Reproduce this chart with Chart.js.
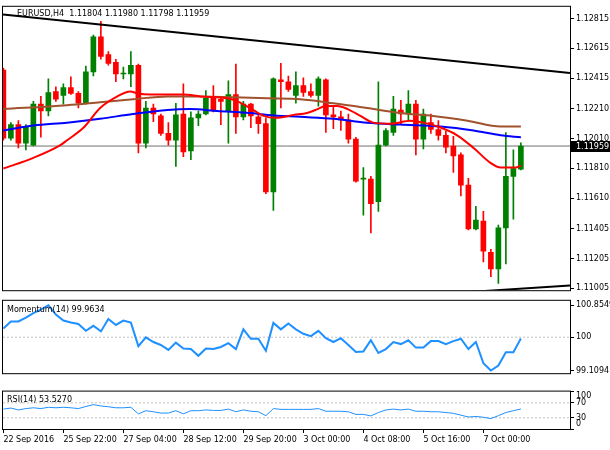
<!DOCTYPE html>
<html>
<head>
<meta charset="utf-8">
<title>EURUSD H4</title>
<script src="https://cdn.jsdelivr.net/npm/chart.js@4.4.1/dist/chart.umd.min.js"></script>
<style>
  body { margin: 0; background: #fff; width: 610px; height: 450px; overflow: hidden; position: relative; }
  canvas { position: absolute; left: 0; }
  #main { top: 0; }
  #momentum { top: 294px; }
  #rsi { top: 380px; }
</style>
</head>
<body>
<canvas id="main" width="610" height="297"></canvas>
<canvas id="momentum" width="610" height="86"></canvas>
<canvas id="rsi" width="610" height="70"></canvas>
<script>
//candles, one per H4 bar (22 Sep 16:00 -> 7 Oct 20:00)
const opens = [1.12469, 1.12011, 1.12103, 1.11978, 1.11965, 1.12240, 1.12194, 1.12325, 1.12299, 1.12351,
  1.12312, 1.12246, 1.12456, 1.12691, 1.12573, 1.12521, 1.12442, 1.12442, 1.12501, 1.11978,
  1.12214, 1.12161, 1.12044, 1.11998, 1.12174, 1.11926, 1.12148, 1.12174, 1.12286, 1.12273,
  1.12194, 1.12305, 1.12155, 1.12240, 1.12155, 1.12109, 1.11652, 1.12403, 1.12390, 1.12299,
  1.12364, 1.12325, 1.12299, 1.12403, 1.12168, 1.12155, 1.12135, 1.12005, 1.11737, 1.11737,
  1.11586, 1.11965, 1.12050, 1.12201, 1.12174, 1.12240, 1.12005, 1.12116, 1.12070, 1.12031,
  1.11959, 1.11900, 1.11697, 1.11403, 1.11456, 1.11246, 1.11135, 1.11410, 1.11756, 1.11804];
const highs = [1.12482, 1.12116, 1.12129, 1.12103, 1.12259, 1.12292, 1.12410, 1.12357, 1.12377, 1.12423,
  1.12325, 1.12495, 1.12704, 1.12795, 1.12593, 1.12541, 1.12488, 1.12593, 1.12508, 1.12259,
  1.12240, 1.12174, 1.12116, 1.12246, 1.12377, 1.12188, 1.12194, 1.12331, 1.12364, 1.12292,
  1.12397, 1.12508, 1.12259, 1.12246, 1.12174, 1.12148, 1.12416, 1.12514, 1.12429, 1.12456,
  1.12416, 1.12377, 1.12423, 1.12410, 1.12227, 1.12194, 1.12174, 1.12018, 1.11815, 1.11756,
  1.12390, 1.12076, 1.12292, 1.12266, 1.12331, 1.12266, 1.12207, 1.12174, 1.12129, 1.12057,
  1.12024, 1.11913, 1.11743, 1.11554, 1.11521, 1.11266, 1.11429, 1.12050, 1.11933, 1.11980];
const lows = [1.11998, 1.11998, 1.11946, 1.11933, 1.11959, 1.12018, 1.12161, 1.12259, 1.12240, 1.12305,
  1.12214, 1.12240, 1.12429, 1.12541, 1.12501, 1.12390, 1.12410, 1.12357, 1.11913, 1.11946,
  1.12122, 1.12031, 1.11965, 1.11822, 1.11887, 1.11867, 1.12096, 1.12168, 1.12188, 1.12103,
  1.11978, 1.12044, 1.12135, 1.12083, 1.12044, 1.11639, 1.11527, 1.12214, 1.12325, 1.12246,
  1.12292, 1.12286, 1.12227, 1.12050, 1.12076, 1.12063, 1.11978, 1.11717, 1.11495, 1.11377,
  1.11521, 1.11959, 1.12031, 1.12109, 1.12129, 1.11900, 1.11939, 1.12044, 1.11998, 1.11913,
  1.11782, 1.11625, 1.11397, 1.11397, 1.11181, 1.11083, 1.11037, 1.11168, 1.11469, 1.11798];
const closes = [1.12011, 1.12103, 1.11978, 1.12090, 1.12240, 1.12194, 1.12318, 1.12273, 1.12351, 1.12312,
  1.12246, 1.12456, 1.12691, 1.12560, 1.12514, 1.12442, 1.12445, 1.12501, 1.11978, 1.12214,
  1.12174, 1.12044, 1.11998, 1.12168, 1.11920, 1.12148, 1.12174, 1.12279, 1.12201, 1.12259,
  1.12305, 1.12155, 1.12240, 1.12161, 1.12109, 1.11652, 1.12410, 1.12390, 1.12338, 1.12364,
  1.12318, 1.12299, 1.12410, 1.12168, 1.12155, 1.12135, 1.12005, 1.11724, 1.11743, 1.11573,
  1.11965, 1.12063, 1.12207, 1.12174, 1.12240, 1.12005, 1.12174, 1.12070, 1.12031, 1.11952,
  1.11893, 1.11697, 1.11403, 1.11462, 1.11253, 1.11135, 1.11410, 1.11756, 1.11808, 1.11959];

//moving averages at some bars
const maRedBars = [0, 4, 7.6, 8.5, 10.7, 12.9, 15.2, 16.9, 17.9, 19.6, 24, 26.3, 29.9, 31.2, 32.9, 34.7, 36.3,
  38.7, 40.5, 41.9, 42.9, 44.5, 45.9, 47.6, 49.3, 51.6, 54.3, 56, 58.3, 60.5, 62.7, 64.9, 66.3, 68.3, 69];
const maRedValues = [1.11808, 1.11880, 1.11965, 1.11998, 1.12083, 1.12214, 1.12292, 1.12325, 1.12312, 1.12305,
  1.12305, 1.12292, 1.12279, 1.12259, 1.12214, 1.12161, 1.12148, 1.12168, 1.12181, 1.12207, 1.12227, 1.12227,
  1.12207, 1.12161, 1.12116, 1.12109, 1.12129, 1.12116, 1.12083, 1.12031, 1.11946, 1.11848, 1.11815, 1.11815, 1.11828];
const maBlueBars = [0, 4, 8.5, 12.9, 17.3, 21.9, 24.9, 28.5, 32.9, 35.2, 39.6, 44, 48.5, 52.9, 58.3, 62.7, 66.3, 69];
const maBlueValues = [1.12063, 1.12096, 1.12116, 1.12142, 1.12174, 1.12201, 1.12207, 1.12194, 1.12181,
  1.12168, 1.12155, 1.12142, 1.12116, 1.12103, 1.12090, 1.12063, 1.12031, 1.12018];
const maBrownBars = [0, 8.5, 12.9, 17.3, 21.9, 26.3, 30.7, 35.2, 39.6, 44, 48.5, 52.9, 57.3, 61.9, 66.3, 69];
const maBrownValues = [1.12207, 1.12233, 1.12253, 1.12273, 1.12292, 1.12292, 1.12286, 1.12279, 1.12273,
  1.12246, 1.12214, 1.12181, 1.12161, 1.12129, 1.12090, 1.12090];

//trend lines
const upperTrendBars = [-0.05, 75.55];
const upperTrendValues = [1.12841, 1.12449];
const lowerTrendBars = [60, 75.55];
const lowerTrendValues = [1.10973, 1.11024];

//indicators
const momentum = [100.2337, 100.4224, 100.4224, 100.5246, 100.6426, 100.7369, 100.8549, 100.6033, 100.4460, 100.3910,
  100.3517, 100.1708, 100.3045, 100.1551, 100.4853, 100.3281, 100.4460, 100.3910, 99.7620, 99.9978,
  99.8720, 99.7934, 99.6597, 99.8563, 99.6991, 99.6833, 99.5025, 99.6991, 99.6833, 99.7384,
  99.8406, 99.6833, 100.2101, 99.9585, 99.9585, 99.6362, 100.3831, 100.2101, 100.3674, 100.2101,
  100.0922, 100.0293, 100.1708, 99.9743, 99.8720, 99.9743, 99.7934, 99.6047, 99.6204, 99.9192,
  99.5811, 99.6833, 99.8720, 99.8170, 99.9192, 99.7226, 99.7226, 99.8956, 99.8956, 99.8170,
  99.8956, 99.9585, 99.6833, 99.8720, 99.3059, 99.1094, 99.2430, 99.5968, 99.5968, 99.9634];
const rsi = [53.2, 56.0, 51.0, 54.6, 56.7, 54.6, 58.1, 56.7, 58.1, 56.7,
  54.6, 60.2, 65.1, 61.6, 59.5, 56.7, 56.7, 58.1, 40.5, 48.9,
  46.1, 42.6, 42.6, 48.9, 40.5, 48.9, 48.9, 51.0, 49.6, 49.6,
  53.2, 46.1, 51.0, 47.5, 46.1, 35.6, 54.6, 52.5, 52.5, 52.5,
  52.5, 52.5, 54.6, 47.5, 47.5, 47.5, 46.1, 39.1, 39.1, 34.9,
  44.0, 51.0, 53.2, 51.0, 53.2, 47.5, 47.5, 46.1, 46.1, 44.0,
  41.9, 37.0, 32.1, 33.5, 31.4, 27.9, 35.6, 44.0, 49.0, 53.527];
const momentumLevels = [100];
const rsiLevels = [70, 30];

//axes
const priceTicks = [1.12815, 1.12615, 1.12415, 1.12210, 1.12010, 1.11810, 1.11610, 1.11405, 1.11205, 1.11005];
const momentumTicks = [100.8549, 100, 99.1094];
const rsiTicks = [100, 70, 30, 0];
const timeTickBars = [0, 8, 16, 24, 32, 40, 48, 56, 64];
const timeTickLabels = ['22 Sep 2016', '25 Sep 22:00', '27 Sep 04:00', '28 Sep 12:00', '29 Sep 20:00',
  '3 Oct 00:00', '4 Oct 08:00', '5 Oct 16:00', '7 Oct 00:00'];

const xMin = -0.05;
const xMax = 75.55;
const last = closes.length - 1;

Chart.defaults.font.family = '"DejaVu Sans"';
Chart.defaults.font.size = 8;
Chart.defaults.color = '#000';
Chart.defaults.animation = false;
Chart.defaults.events = [];
Chart.defaults.plugins.legend.display = false;
Chart.defaults.plugins.tooltip.enabled = false;

//helpers
function points(xs, ys) {
  return xs.map((x, i) => ({x: x, y: ys[i]}));
}
//smooth = true for the averages, straight segments for the indicators
function lineSet(data, color, width, order, smooth) {
  return {type: 'line', data: data, borderColor: color, borderWidth: width, pointRadius: 0,
    fill: false, clip: 0, order: order, tension: 0,
    cubicInterpolationMode: smooth ? 'monotone' : 'default'};
}
function levelSet(value) {
  return {type: 'line', data: points([xMin, xMax], [value, value]), borderColor: '#c0c0c0',
    borderWidth: 1, borderDash: [2, 2], pointRadius: 0, order: 5};
}
function hiddenX() {
  return {type: 'linear', min: xMin, max: xMax, offset: false, display: false};
}
function rightAxis(min, max, ticks, label) {
  return {
    position: 'right', min: min, max: max, beginAtZero: false,
    afterFit: s => { s.width = 40; },
    afterBuildTicks: s => { s.ticks = ticks.map(v => ({value: v})); },
    grid: {drawOnChartArea: false, tickLength: 4, tickColor: '#000'},
    border: {display: false},
    ticks: {padding: 2, autoSkip: false, callback: label}
  };
}
//box round the panel and its title
function panelDeco(title, dx, dy) {
  return {
    id: 'panelDeco',
    afterDraw(chart) {
      const {ctx, chartArea: a} = chart;
      ctx.save();
      ctx.strokeStyle = '#000';
      ctx.lineWidth = 1;
      ctx.strokeRect(a.left - 0.5, a.top - 0.5, a.right - a.left + 1, a.bottom - a.top + 1);
      ctx.fillStyle = '#000';
      ctx.font = '8px "DejaVu Sans"';
      ctx.textBaseline = 'middle';
      ctx.fillText(title, a.left + dx, a.top + dy);
      ctx.restore();
    }
  };
}
//last price on the axis
const priceBox = {
  id: 'priceBox',
  afterDraw(chart) {
    const {ctx, chartArea: a, scales} = chart;
    const y = Math.round(scales.y.getPixelForValue(closes[last]));
    ctx.save();
    ctx.fillStyle = '#000';
    ctx.fillRect(a.right + 1, y - 5, 39, 11);
    ctx.fillStyle = '#fff';
    ctx.font = '8px "DejaVu Sans"';
    ctx.textBaseline = 'middle';
    ctx.fillText(closes[last].toFixed(5), a.right + 6, y + 0.5);
    ctx.restore();
  }
};

const candleColors = closes.map((c, i) => c >= opens[i] ? '#008000' : '#ff0000');
const mainTitle = 'EURUSD,H4  ' + [opens[last], highs[last], lows[last], closes[last]].map(v => v.toFixed(5)).join(' ');

//price chart
new Chart(document.getElementById('main'), {
  type: 'bar',
  data: {
    datasets: [
      lineSet(points(upperTrendBars, upperTrendValues), '#000', 2, 0, false),
      lineSet(points(lowerTrendBars, lowerTrendValues), '#000', 2, 0, false),
      lineSet(points(maRedBars, maRedValues), '#ff0000', 2, 1, true),
      lineSet(points(maBlueBars, maBlueValues), '#0000ff', 2, 1, true),
      lineSet(points(maBrownBars, maBrownValues), '#a0522d', 2, 1, true),
      {data: opens.map((o, i) => ({x: i, y: [o, closes[i]]})), backgroundColor: candleColors,
        barThickness: 5, minBarLength: 1, grouped: false, order: 2},
      {data: lows.map((l, i) => ({x: i, y: [l, highs[i]]})), backgroundColor: candleColors,
        barThickness: 1, grouped: false, order: 3},
      {type: 'line', data: points([xMin, xMax], [closes[last], closes[last]]), borderColor: '#707070',
        borderWidth: 1, pointRadius: 0, order: 4}
    ]
  },
  options: {
    responsive: false,
    layout: {padding: {left: 3, top: 3, bottom: 3, right: 0}},
    scales: {
      x: hiddenX(),
      y: rightAxis(1.10992, 1.12893, priceTicks, v => v.toFixed(5))
    }
  },
  plugins: [panelDeco(mainTitle, 14, 7.5), priceBox]
});

//momentum
new Chart(document.getElementById('momentum'), {
  type: 'line',
  data: {
    datasets: [
      lineSet(momentum.map((v, i) => ({x: i, y: v})), '#1e90ff', 2, 1, false),
      ...momentumLevels.map(levelSet)
    ]
  },
  options: {
    responsive: false,
    layout: {padding: {left: 3, top: 2, bottom: 2, right: 0}},
    scales: {
      x: hiddenX(),
      y: rightAxis(99.0386, 100.9729, momentumTicks, v => v === 100 ? '100' : v.toFixed(4))
    }
  },
  plugins: [panelDeco('Momentum(14) ' + momentum[last].toFixed(4), 4, 9)]
});

//rsi with the time axis
new Chart(document.getElementById('rsi'), {
  type: 'line',
  data: {
    datasets: [
      lineSet(rsi.map((v, i) => ({x: i, y: v})), '#1e90ff', 1, 1, false),
      ...rsiLevels.map(levelSet)
    ]
  },
  options: {
    responsive: false,
    layout: {padding: {left: 3, top: 2, bottom: 7, right: 0}},
    scales: {
      x: {
        type: 'linear', min: xMin, max: xMax, offset: false,
        afterFit: s => { s.height = 14; },
        afterBuildTicks: s => { s.ticks = timeTickBars.map(v => ({value: v})); },
        grid: {drawOnChartArea: false, tickLength: 4, tickColor: '#000'},
        border: {display: false},
        ticks: {align: 'start', maxRotation: 0, autoSkip: false, padding: 2,
          callback: v => timeTickLabels[timeTickBars.indexOf(v)]}
      },
      y: rightAxis(0, 100, rsiTicks, v => v === 100 ? ['', '100'] : v === 0 ? ['0', ''] : String(v))
    }
  },
  plugins: [panelDeco('RSI(14) ' + rsi[last].toFixed(4), 4, 8)]
});
</script>
</body>
</html>
